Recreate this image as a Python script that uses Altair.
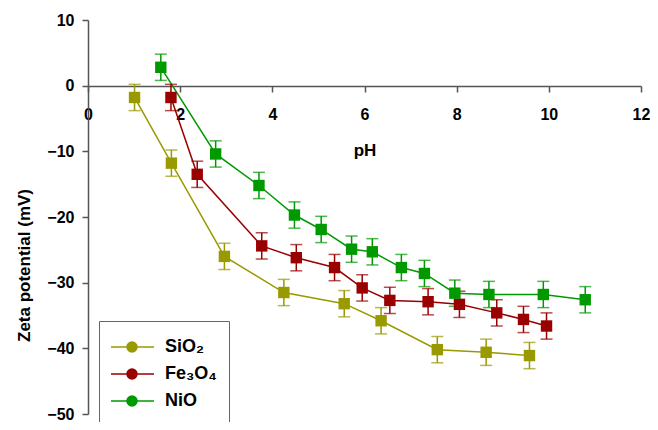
import altair as alt
import pandas as pd

names = ["SiO₂", "Fe₃O₄", "NiO"]
colors = ["#999900", "#990000", "#009900"]

sio2_x = [1.01, 1.81, 2.96, 4.25, 5.56, 6.36, 7.58, 8.64, 9.58]
sio2_y = [-1.8, -11.8, -26.0, -31.5, -33.2, -35.8, -40.2, -40.6, -41.1]
sio2_err = [2.0, 2.0, 2.0, 2.0, 2.0, 2.0, 2.0, 2.0, 2.0]

fe_x = [1.80, 2.37, 3.77, 4.52, 5.35, 5.95, 6.55, 7.38, 8.06, 8.87, 9.45, 9.95]
fe_y = [-1.8, -13.5, -24.4, -26.2, -27.7, -30.8, -32.7, -32.9, -33.3, -34.6, -35.6, -36.6]
fe_err = [2.0, 2.0, 2.0, 2.0, 2.0, 2.0, 2.0, 2.0, 2.0, 2.0, 2.0, 2.0]

nio_x = [1.58, 2.77, 3.71, 4.48, 5.06, 5.72, 6.17, 6.80, 7.30, 7.96, 8.70, 9.88, 10.79]
nio_y = [2.8, -10.4, -15.2, -19.7, -21.9, -24.9, -25.3, -27.7, -28.6, -31.6, -31.8, -31.8, -32.6]
nio_err = [2.0, 2.0, 2.0, 2.0, 2.0, 2.0, 2.0, 2.0, 2.0, 2.0, 2.0, 2.0, 2.0]

rows = []
for name, xs, ys, es in [(names[0], sio2_x, sio2_y, sio2_err),
                         (names[1], fe_x, fe_y, fe_err),
                         (names[2], nio_x, nio_y, nio_err)]:
    for x, y, e in zip(xs, ys, es):
        rows.append({"material": name, "pH": x, "zeta": y, "lo": y - e, "hi": y + e})
df = pd.DataFrame(rows)

FONT = "Liberation Sans"
H = 394
W = 553

legend = alt.Legend(
    title=" ",
    titleFontSize=2,
    titlePadding=3,
    orient="none",
    legendX=11,
    legendY=301,
    direction="vertical",
    strokeColor="#666666",
    fillColor="white",
    padding=12,
    rowPadding=9,
    labelFont=FONT,
    labelFontSize=18,
    labelFontWeight="bold",
    labelColor="black",
    labelOffset=36,
    symbolType="M-1.5,0L5.667,0M1.167,0A0.833,0.833,0,1,0,2.833,0A0.833,0.833,0,1,0,1.167,0Z",
    symbolSize=144,
    symbolStrokeWidth=1.5,
    symbolOpacity=1,
)

cscale = alt.Scale(domain=names, range=colors)
stroke = alt.Stroke("material:N", scale=cscale, legend=legend)
fill = alt.Fill("material:N", scale=cscale, legend=legend)

x = alt.X("pH:Q", scale=alt.Scale(domain=[0, 12], nice=False, zero=False),
          axis=alt.Axis(title="pH", values=[0, 2, 4, 6, 8, 10, 12], offset=-328,
                        grid=False, tickSize=6, labelPadding=14, labelFlush=False,
                        labelOverlap=False, titleX=276.5, titleY=69,
                        titleAlign="center", titleBaseline="alphabetic",
                        format="d"))
y = alt.Y("zeta:Q", scale=alt.Scale(domain=[-50, 10], nice=False, zero=False),
          axis=alt.Axis(title="Zeta potential (mV)", values=[-50, -40, -30, -20, -10, 0, 10],
                        grid=False, tickSize=6, labelPadding=8, labelFlush=False,
                        labelOverlap=False, titleX=-64, titleY=245,
                        titleAlign="center", titleBaseline="middle", titleAngle=-90,
                        format="d"))

base = alt.Chart(df)

lines = base.mark_line(strokeWidth=1.5).encode(x=x, y=y, stroke=stroke, detail="material:N")
rules = base.mark_rule(strokeWidth=1.5).encode(x=x, y=alt.Y("lo:Q"), y2="hi:Q", stroke=stroke)
caps_lo = base.mark_tick(orient="horizontal", size=12, thickness=1.5).encode(x=x, y=alt.Y("lo:Q"), fill=fill)
caps_hi = base.mark_tick(orient="horizontal", size=12, thickness=1.5).encode(x=x, y=alt.Y("hi:Q"), fill=fill)
points = base.mark_square(size=130, filled=True, opacity=1, strokeWidth=0).encode(
    x=x, y=y, fill=fill, stroke=stroke)

chart = alt.layer(lines, rules, caps_lo, caps_hi, points).properties(
    width=W, height=H,
    autosize=alt.AutoSizeParams(type="none"),
    padding={"left": 80, "top": 12, "right": 9, "bottom": 8},
).configure_view(stroke=None).configure_axis(
    labelFont=FONT, labelFontSize=16, labelFontWeight="bold", labelColor="black",
    titleFont=FONT, titleFontSize=17, titleFontWeight="bold", titleColor="black",
    domainColor="#555555", tickColor="#555555", domainWidth=1.5, tickWidth=1.5,
)

chart.save("out.html", embed_options={"renderer": "svg", "actions": False})
